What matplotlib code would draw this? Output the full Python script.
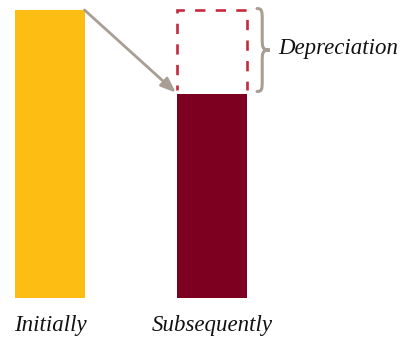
import matplotlib
matplotlib.use("Agg")
import matplotlib.pyplot as plt
from matplotlib.path import Path
from matplotlib.patches import PathPatch

categories = ["Initially", "Subsequently"]
values = [100, 71]
annotation = "Depreciation"

YELLOW = "#FDBD12"
MAROON = "#7D0020"
DASH_RED = "#C42A3E"
GRAY = "#A89E94"
FONT = "Liberation Serif"

fig = plt.figure(figsize=(4.04, 3.39), dpi=100)
ax = fig.add_axes([0, 41 / 339, 1, 288 / 339])
ax.set_xlim(-50 / 162, 354 / 162)
ax.set_ylim(0, 100)
ax.axis("off")

w = 0.426
x = [0, 1]
ax.bar(x[0], values[0], width=w, color=YELLOW, zorder=2)
ax.bar(x[1], values[1], width=w, color=MAROON, zorder=2)

# dashed outline (three sides) of the lost value
xl, xr = x[1] - w / 2, x[1] + w / 2
gap = 1.2
ax.plot([xl, xl, xr, xr], [values[1] + gap, values[0], values[0], values[1] + gap],
        color=DASH_RED, lw=1.9, linestyle=(2.0, (3.9, 3.9)), clip_on=False,
        zorder=1, solid_joinstyle="miter", dash_joinstyle="miter")

# arrow
ax.annotate("", xy=(x[1] - w / 2 - 0.01, values[1] + 0.3),
            xytext=(x[0] + w / 2, values[0]),
            arrowprops=dict(arrowstyle="-|>,head_length=0.9,head_width=0.35",
                            color=GRAY, lw=2, shrinkA=0, shrinkB=0),
            annotation_clip=False, zorder=3)

# brace
top, bot = values[0] + 0.5, values[1] + 0.7
mid = (top + bot) / 2
x0, xm, x1 = 1.278, 1.31, 1.357
c = 4.0
verts = [
    (x0, top), (xm, top), (xm, top - 1), (xm, top - c),
    (xm, mid + c),
    (xm, mid + 1), (xm, mid), (x1, mid),
    (xm, mid), (xm, mid - 1), (xm, mid - c),
    (xm, bot + c),
    (xm, bot + 1), (xm, bot), (x0, bot),
]
codes = [Path.MOVETO, Path.CURVE4, Path.CURVE4, Path.CURVE4,
         Path.LINETO,
         Path.CURVE4, Path.CURVE4, Path.CURVE4,
         Path.CURVE4, Path.CURVE4, Path.CURVE4,
         Path.LINETO,
         Path.CURVE4, Path.CURVE4, Path.CURVE4]
ax.add_patch(PathPatch(Path(verts, codes), fill=False, edgecolor=GRAY,
                       lw=2.2, capstyle="round", clip_on=False))

ax.text(1.412, mid + 0.5, annotation, family=FONT, style="italic",
        fontsize=16.5, va="center", ha="left", color="#111111")

for xi, lab in zip(x, categories):
    ax.text(xi, -9.4, lab, family=FONT, style="italic", fontsize=16.5,
            ha="center", va="center", color="#111111", clip_on=False)

fig.savefig("out.png", dpi=100)
